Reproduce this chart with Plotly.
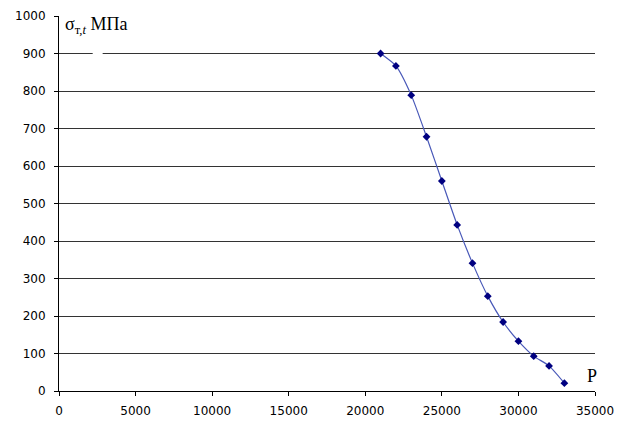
import plotly.graph_objects as go

P = [21000, 22000, 23000, 24000, 25000, 26000, 27000, 28000, 29000, 30000, 31000, 32000, 33000]
sigma = [900, 867, 789, 678, 560, 443, 341, 253, 184, 133, 93, 67, 21]
x_ticks = [0, 5000, 10000, 15000, 20000, 25000, 30000, 35000]
y_ticks = [0, 100, 200, 300, 400, 500, 600, 700, 800, 900, 1000]
grid_vals = [100, 200, 300, 400, 500, 600, 700, 800, 900]

fig = go.Figure()
fig.add_trace(go.Scatter(
    x=P, y=sigma, mode="lines+markers",
    line=dict(color="#4858B8", width=1.2, shape="spline", smoothing=0.6),
    marker=dict(symbol="diamond", size=6, color="#000080"),
    showlegend=False,
))
# invisible trace on second y axis to carry gridlines
fig.add_trace(go.Scatter(x=[0], y=[0], yaxis="y2", mode="markers",
                         marker=dict(opacity=0), showlegend=False, hoverinfo="skip"))

fig.add_shape(type="rect", xref="x", yref="y", x0=2200, x1=2850, y0=885, y1=915,
              fillcolor="white", line=dict(width=0), layer="above")

fig.add_annotation(xref="paper", yref="paper", x=0.008, y=0.975, xanchor="left", yanchor="middle",
                   text="σ<sub>т,<i>t</i></sub> МПа", showarrow=False,
                   font=dict(family="Liberation Serif", size=18, color="black"))
fig.add_annotation(xref="paper", yref="paper", x=0.995, y=0.04, xanchor="center", yanchor="middle",
                   text="P", showarrow=False,
                   font=dict(family="Liberation Serif", size=18, color="black"))

fig.update_layout(
    width=626, height=421,
    margin=dict(l=59, r=31, t=16, b=30),
    paper_bgcolor="white", plot_bgcolor="white",
    font=dict(family="DejaVu Sans", size=12, color="black"),
    xaxis=dict(range=[0, 35000], tickvals=x_ticks, ticktext=[str(v) for v in x_ticks],
               showgrid=False, showline=True, linecolor="black", linewidth=1,
               ticks="outside", ticklen=4, tickcolor="black", zeroline=False,
               ticklabelstandoff=5, automargin=False),
    yaxis=dict(range=[0, 1000], tickvals=y_ticks, ticktext=[str(v) for v in y_ticks],
               showgrid=False,
               showline=True, linecolor="black", linewidth=1,
               ticks="outside", ticklen=4, tickcolor="black", zeroline=False,
               ticklabelstandoff=6, automargin=False),
    yaxis2=dict(range=[0, 1000], overlaying="y", side="right", tickvals=grid_vals,
                showticklabels=False, showgrid=True, gridcolor="#333333", gridwidth=1,
                showline=False, zeroline=False, ticks="", automargin=False),
)

fig.write_html("out.html")
